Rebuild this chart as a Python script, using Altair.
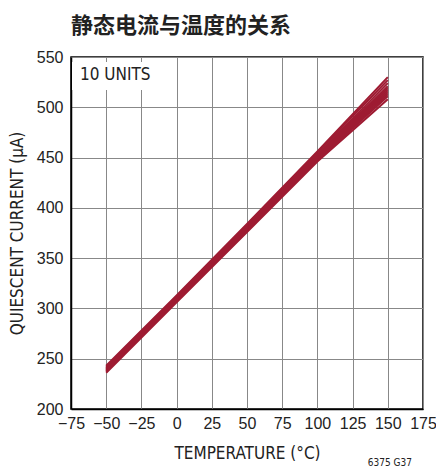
import altair as alt
import pandas as pd

# Temperatures (°C) at which each unit's quiescent current was read
temps = [-50, 0, 50, 100, 150]

# Quiescent current (µA) for the 10 units
unit_01 = [236, 306, 376, 446, 508]
unit_02 = [237, 307, 377, 447, 511]
unit_03 = [238, 308, 378, 448, 513]
unit_04 = [238, 308, 379, 449, 515]
unit_05 = [239, 309, 380, 450, 517]
unit_06 = [240, 310, 380, 451, 519]
unit_07 = [240, 310, 381, 452, 521]
unit_08 = [241, 311, 382, 453, 524]
unit_09 = [242, 312, 383, 455, 527]
unit_10 = [243, 313, 384, 456, 530]
units = [unit_01, unit_02, unit_03, unit_04, unit_05,
         unit_06, unit_07, unit_08, unit_09, unit_10]

x_ticks = [-75, -50, -25, 0, 25, 50, 75, 100, 125, 150, 175]
y_ticks = [200, 250, 300, 350, 400, 450, 500, 550]

title_text = "静态电流与温度的关系"
x_title = "TEMPERATURE  (°C)"
y_title = "QUIESCENT CURRENT (µA)"
note_text = "10 UNITS"
code_text = "6375 G37"

rows = []
for i, u in enumerate(units):
    for t, v in zip(temps, u):
        rows.append({"unit": f"U{i+1}", "temp": t, "iq": v})
df = pd.DataFrame(rows)

FONT = "'Liberation Sans Narrow', 'DejaVu Sans Condensed', 'Liberation Sans', sans-serif"
LABEL_FONT = "'Liberation Sans', Arial, sans-serif"
RED = "#9E1B32"

W, H = 352, 352

xscale = alt.Scale(domain=[-75, 175], nice=False, zero=False)
yscale = alt.Scale(domain=[200, 550], nice=False, zero=False)

lines = alt.Chart(df).mark_line(color=RED, strokeWidth=2.0, clip=True).encode(
    x=alt.X("temp:Q", scale=xscale,
            axis=alt.Axis(values=x_ticks, title=x_title, grid=True,
                          ticks=False, labelPadding=6, labelOverlap=False,
                          labelFlush=False,
                          titleX=176, titleY=44,
                          titleBaseline="middle", titleAlign="center")),
    y=alt.Y("iq:Q", scale=yscale,
            axis=alt.Axis(values=y_ticks, title=y_title, grid=True,
                          ticks=False, labelPadding=8, labelOverlap=False,
                          labelFlush=False,
                          titleX=-54, titleY=176,
                          titleAngle=-90, titleBaseline="middle",
                          titleAlign="center")),
    detail="unit:N",
)

box = alt.Chart(pd.DataFrame({"a": [0]})).mark_rect(color="white").encode(
    x=alt.value(1), x2=alt.value(88), y=alt.value(5), y2=alt.value(33)
)

note = alt.Chart(pd.DataFrame({"t": [note_text]})).mark_text(
    align="left", baseline="middle", font=FONT, fontSize=17, color="#222"
).encode(x=alt.value(9), y=alt.value(18), text="t:N")

code = alt.Chart(pd.DataFrame({"t": [code_text]})).mark_text(
    align="right", baseline="middle", font=FONT, fontSize=10, color="#222"
).encode(x=alt.value(341), y=alt.value(406), text="t:N")

chart = alt.layer(lines, box, note, code).properties(
    width=W, height=H,
    title=alt.TitleParams(title_text, anchor="start", frame="group",
                          font="Noto Sans CJK SC",
                          fontSize=22, fontWeight="bold", color="#222",
                          offset=11),
    autosize=alt.AutoSizeParams(type="none"),
    padding={"left": 63, "top": 49, "right": 13, "bottom": 59},
).configure_view(
    stroke="black", strokeWidth=1.5
).configure_axis(
    labelFont=LABEL_FONT, labelFontSize=16, labelColor="#222",
    titleFont=FONT, titleFontSize=17, titleColor="#222", titleFontWeight="normal",
    gridColor="#888", gridWidth=1, gridOpacity=1,
    domainColor="black", domainWidth=1.5,
)

chart.save("out.html", embed_options={"renderer": "svg", "actions": False})
